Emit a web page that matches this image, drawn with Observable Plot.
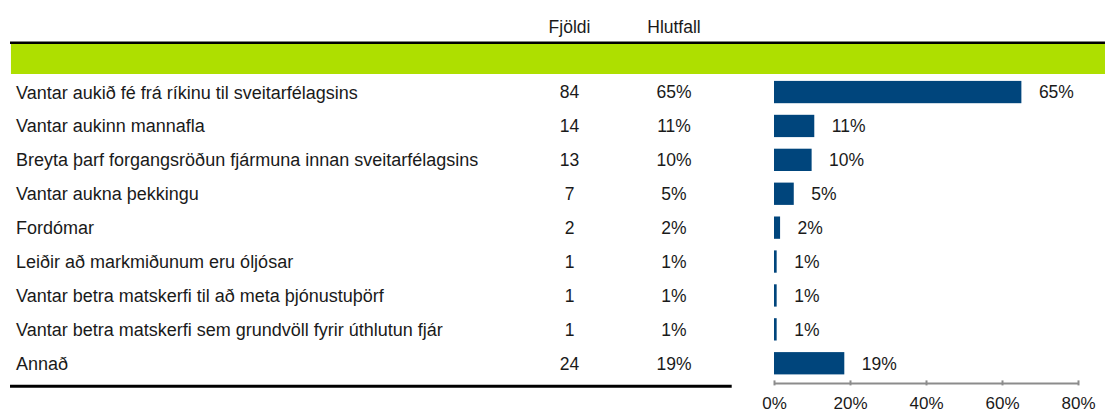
<!DOCTYPE html>
<html>
<head>
<meta charset="utf-8">
<script src="https://cdn.jsdelivr.net/npm/d3@7"></script>
<script src="https://cdn.jsdelivr.net/npm/@observablehq/plot@0.6"></script>
<style>
  html, body { margin: 0; padding: 0; background: #fff; }
</style>
</head>
<body>
<div id="chart"></div>
<script>
const categories = [
  "Vantar aukið fé frá ríkinu til sveitarfélagsins",
  "Vantar aukinn mannafla",
  "Breyta þarf forgangsröðun fjármuna innan sveitarfélagsins",
  "Vantar aukna þekkingu",
  "Fordómar",
  "Leiðir að markmiðunum eru óljósar",
  "Vantar betra matskerfi til að meta þjónustuþörf",
  "Vantar betra matskerfi sem grundvöll fyrir úthlutun fjár",
  "Annað"
];
const counts = [84, 14, 13, 7, 2, 1, 1, 1, 24];
const percentLabels = ["65%", "11%", "10%", "5%", "2%", "1%", "1%", "1%", "19%"];
const shares = [0.651, 0.106, 0.099, 0.052, 0.016, 0.007, 0.007, 0.007, 0.185];
const columnHeaders = ["Fjöldi", "Hlutfall"];
const xTicks = [0, 0.2, 0.4, 0.6, 0.8];

const HEADER = " ";
const rows = categories.map((c, i) => ({
  category: c, count: counts[i], label: percentLabels[i], share: shares[i]
}));
const lastCat = categories[categories.length - 1];

// column anchors expressed in the x scale's units (extrapolated left of 0)
const xLeftEdge = -2.0105, xLabel = -1.996, xCount = -0.5395, xPct = -0.2645;
const xRightEdge = 0.871, xBottomLineEnd = -0.1113, xGreenStart = -2.008;

const textColor = "#1a1a1a";
const chart = Plot.plot({
  width: 1105,
  height: 417,
  marginLeft: 774,
  marginRight: 27,
  marginTop: 41.4,
  marginBottom: 36.6,
  style: {fontFamily: "'Liberation Sans', Arial, sans-serif", fontSize: "17.5px", color: textColor, background: "#fff"},
  x: {domain: [0, 0.8], axis: null, label: null},
  y: {domain: [HEADER, ...categories], padding: 0, round: false, axis: null},
  marks: [
    // green header band
    Plot.barX([HEADER], {y: d => d, x1: xGreenStart, x2: xRightEdge, fill: "#aedf00", insetTop: 1.9, insetBottom: 1.3}),
    // top black line
    Plot.ruleY([HEADER], {y: d => d, x1: xLeftEdge, x2: xRightEdge, stroke: "#000", strokeWidth: 2.6, dy: -16.15}),
    // column headers
    Plot.text([columnHeaders[0]], {x: xCount, y: () => HEADER, text: d => d, dy: -31.6, fill: textColor}),
    Plot.text([columnHeaders[1]], {x: xPct, y: () => HEADER, text: d => d, dy: -31.6, fill: textColor}),
    // table columns
    Plot.text(rows, {x: xLabel, y: "category", text: "category", textAnchor: "start", fill: textColor, fontSize: 18}),
    Plot.text(rows, {x: xCount, y: "category", text: d => String(d.count), fill: textColor}),
    Plot.text(rows, {x: xPct, y: "category", text: "label", fill: textColor}),
    // bars
    Plot.barX(rows, {x: "share", y: "category", fill: "#00457c", insetTop: 5.6, insetBottom: 6}),
    Plot.text(rows, {x: "share", y: "category", text: "label", textAnchor: "start", dx: 17, fill: textColor}),
    // bottom black line
    Plot.ruleY([lastCat], {y: d => d, x1: xLeftEdge, x2: xBottomLineEnd, stroke: "#000", strokeWidth: 3, dy: 22.3}),
    // axis line
    Plot.ruleY([lastCat], {y: d => d, x1: 0, x2: 0.8, stroke: "#8c8c8c", strokeWidth: 2, dy: 19.6}),
    Plot.axisX(xTicks, {label: null, tickFormat: d3.format(".0%"), tickSize: 5, tickPadding: 11, stroke: "#8c8c8c", strokeWidth: 2, fill: textColor, fontSize: 17})
  ]
});
document.getElementById("chart").appendChild(chart);
</script>
</body>
</html>
